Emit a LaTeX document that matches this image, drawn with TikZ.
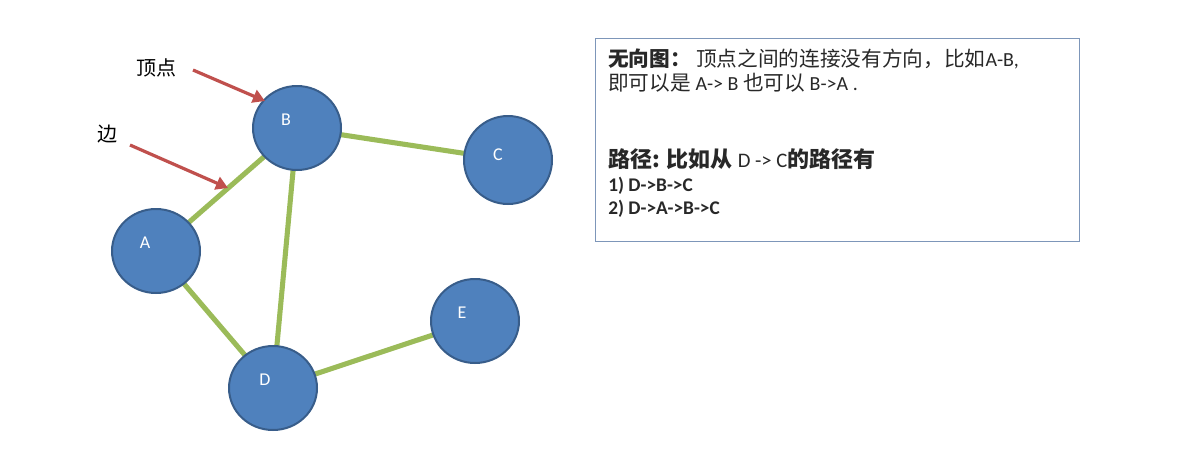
\documentclass[tikz,border=0pt]{standalone}
\usepackage{fontspec}
\newfontfamily\cjk{Noto Sans CJK SC}
\newfontfamily\lat{Carlito}
\usetikzlibrary{shapes.geometric,arrows.meta}
\definecolor{nodeblue}{HTML}{4F81BD}
\definecolor{nodeedge}{HTML}{385D8A}
\definecolor{edgegreen}{HTML}{9BBB59}
\definecolor{arrowred}{HTML}{C0504D}
\definecolor{boxedge}{RGB}{125,150,185}
\definecolor{txtgray}{RGB}{40,40,40}
\tikzset{
  vertex/.style={ellipse, fill=nodeblue, draw=nodeedge, line width=1.5pt,
    minimum width=66pt, minimum height=63pt, inner sep=0pt},
  vlabel/.style={text=white, font=\lat\fontsize{13.5}{15}\selectfont, inner sep=0pt},
  gedge/.style={edgegreen, line width=3.8pt},
  pointer/.style={arrowred, line width=2.4pt, -{Triangle[length=9pt,width=10pt]}},
  cjklabel/.style={font=\cjk\fontsize{15}{17}\selectfont, text=black, inner sep=0pt},
  boxline/.style={anchor=west, inner sep=0pt, text=txtgray}
}
\begin{document}
\begin{tikzpicture}[x=0.75pt,y=-0.75pt]
\useasboundingbox (0,0) rectangle (1199,454);
% edges first (under vertices)
\coordinate (pA) at (156,251);
\coordinate (pB) at (297,128);
\coordinate (pC) at (508,160);
\coordinate (pD) at (273,388);
\coordinate (pE) at (475,321);
\draw[gedge] (pA) -- (pB);
\draw[gedge] (pB) -- (pC);
\draw[gedge] (pB) -- (pD);
\draw[gedge] (pA) -- (pD);
\draw[gedge] (pD) -- (pE);
% vertices
\node[vertex] (A) at (pA) {};
\node[vertex] (B) at (pB) {};
\node[vertex, minimum height=66pt] (C) at (pC) {};
\node[vertex] (D) at (pD) {};
\node[vertex] (E) at (pE) {};
\node[vlabel] (lA) at (145,243) {A};
\node[vlabel] (lB) at (286,120) {B};
\node[vlabel] (lC) at (498,155) {C};
\node[vlabel] (lD) at (265,380) {D};
\node[vlabel] (lE) at (462,313) {E};
% pointer labels and arrows
\node[cjklabel] (tv) at (156,68) {顶点};
\node[cjklabel] (te) at (107,134) {边};
\coordinate (s1) at (193,70);
\coordinate (e1) at (265,101);
\coordinate (s2) at (130,145);
\coordinate (e2) at (228,188);
\draw[pointer] (s1) -- (e1);
\draw[pointer] (s2) -- (e2);
% text box
\node[draw=boxedge, line width=1pt, minimum width=363pt, minimum height=152pt, inner sep=0pt, anchor=north west] (box) at (595,38) {};
\node[boxline] (t1) at (608,59) {\cjk\fontsize{15.5}{17}\selectfont\textbf{无向图：}\hspace{4pt}顶点之间的连接没有方向，比如{\lat\fontsize{15}{17}\selectfont A-B,}};
\node[boxline] (t2) at (608,83) {\cjk\fontsize{15.5}{17}\selectfont 即可以是 {\lat\fontsize{15}{17}\selectfont A-> B} 也可以 {\lat\fontsize{15}{17}\selectfont B->A .}};
\node[boxline] (t3) at (608,159) {\cjk\fontsize{16.5}{18}\selectfont\bfseries 路径: 比如从 {\lat\mdseries\fontsize{15.5}{17}\selectfont D -> C}的路径有};
\node[boxline] (t4) at (608,186) {\lat\bfseries\fontsize{14.5}{16}\selectfont 1) D->B->C};
\node[boxline] (t5) at (608,209) {\lat\bfseries\fontsize{14.5}{16}\selectfont 2) D->A->B->C};
\end{tikzpicture}
\end{document}
